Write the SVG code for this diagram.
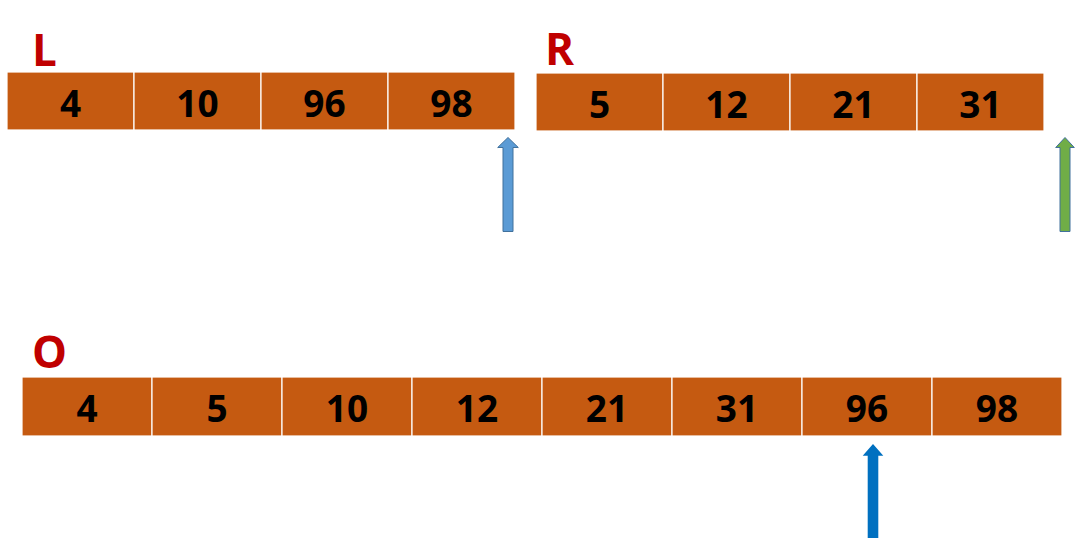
<svg xmlns="http://www.w3.org/2000/svg" width="1076" height="538" viewBox="0 0 1076 538">
<style>
.cell{fill:#C55A11;stroke:#FFFFFF;stroke-width:1.2}
.num{font-family:"Open Sans","Liberation Sans",sans-serif;font-weight:bold;font-size:37px;fill:#000;text-anchor:middle}
.lbl{font-family:"Open Sans","Liberation Sans",sans-serif;font-weight:bold;font-size:44px;fill:#C00000}
</style>
<rect width="1076" height="538" fill="#FFFFFF"/>
<g id="label-L"><text class="lbl" x="32" y="66">L</text></g>
<g id="label-R"><text class="lbl" x="545" y="65">R</text></g>
<g id="label-O"><text class="lbl" x="32" y="368">O</text></g>
<g id="array-L">
<rect class="cell" x="7" y="72" width="127" height="58"/><text class="num" x="70.5" y="117">4</text>
<rect class="cell" x="134" y="72" width="127" height="58"/><text class="num" x="197.5" y="117">10</text>
<rect class="cell" x="261" y="72" width="127" height="58"/><text class="num" x="324.5" y="117">96</text>
<rect class="cell" x="388" y="72" width="127" height="58"/><text class="num" x="451.5" y="117">98</text>
</g>
<g id="array-R">
<rect class="cell" x="536" y="73" width="127" height="58"/><text class="num" x="599.5" y="118">5</text>
<rect class="cell" x="663" y="73" width="127" height="58"/><text class="num" x="726.5" y="118">12</text>
<rect class="cell" x="790" y="73" width="127" height="58"/><text class="num" x="853.5" y="118">21</text>
<rect class="cell" x="917" y="73" width="127" height="58"/><text class="num" x="980.5" y="118">31</text>
</g>
<g id="array-O">
<rect class="cell" x="22" y="377" width="130" height="59"/><text class="num" x="87" y="422">4</text>
<rect class="cell" x="152" y="377" width="130" height="59"/><text class="num" x="217" y="422">5</text>
<rect class="cell" x="282" y="377" width="130" height="59"/><text class="num" x="347" y="422">10</text>
<rect class="cell" x="412" y="377" width="130" height="59"/><text class="num" x="477" y="422">12</text>
<rect class="cell" x="542" y="377" width="130" height="59"/><text class="num" x="607" y="422">21</text>
<rect class="cell" x="672" y="377" width="130" height="59"/><text class="num" x="737" y="422">31</text>
<rect class="cell" x="802" y="377" width="130" height="59"/><text class="num" x="867" y="422">96</text>
<rect class="cell" x="932" y="377" width="130" height="59"/><text class="num" x="997" y="422">98</text>
</g>
<g id="connectors">
<polygon points="508,137.5 518.3,147.5 513,147.5 513,231.5 503,231.5 503,147.5 497.7,147.5" fill="#5B9BD5" stroke="#41719C" stroke-width="1"/>
<polygon points="1065,137.5 1074.3,147.5 1070,147.5 1070,231.5 1060,231.5 1060,147.5 1055.7,147.5" fill="#70AD47" stroke="#41719C" stroke-width="1"/>
<polygon points="873,444 883.3,455.7 878.3,455.7 878.3,538 867.7,538 867.7,455.7 862.7,455.7" fill="#0070C0"/>
</g>
</svg>
